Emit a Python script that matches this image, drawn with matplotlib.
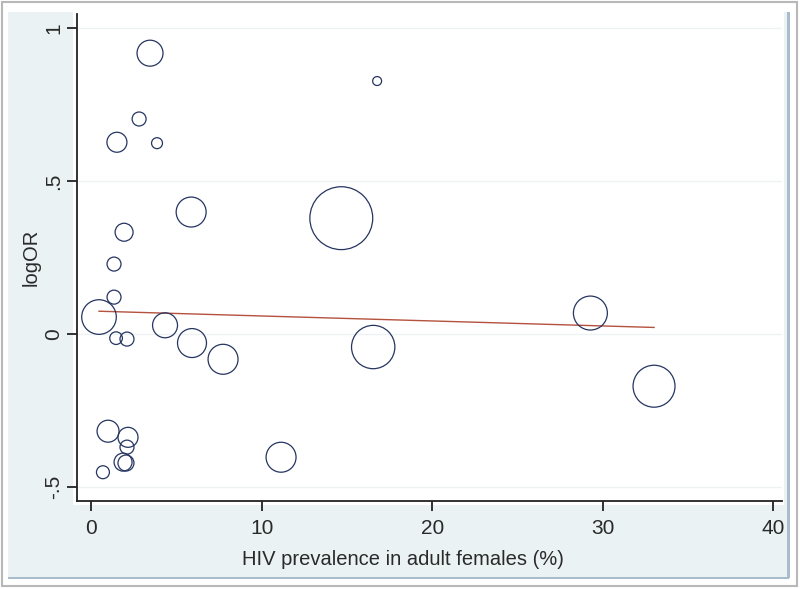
import numpy as np
import matplotlib
matplotlib.use("Agg")
import matplotlib.pyplot as plt
from matplotlib.patches import Rectangle

# HIV prevalence (%) and log odds ratio per study, with relative weights
hiv_prev = [3.46, 2.82, 1.52, 3.87, 16.77, 5.87, 1.94, 1.35, 1.35, 0.47,
            1.47, 2.11, 4.34, 5.92, 7.74, 14.67, 16.54, 29.27, 33.0, 11.14,
            1.0, 2.17, 2.11, 1.88, 2.05, 0.7]
log_or = [0.918, 0.703, 0.627, 0.624, 0.827, 0.399, 0.333, 0.229, 0.121, 0.056,
          -0.013, -0.016, 0.029, -0.029, -0.082, 0.379, -0.042, 0.069, -0.170, -0.402,
          -0.317, -0.337, -0.369, -0.418, -0.421, -0.451]
weights = [169, 49, 100, 30, 20, 225, 81, 49, 49, 300,
           40, 49, 156, 210, 225, 990, 470, 289, 441, 225,
           121, 100, 49, 81, 64, 42]

# fitted meta-regression line
fit_x = [0.47, 33.0]
fit_y = [0.075, 0.022]

xticks = [0, 10, 20, 30, 40]
yticks = [-0.5, 0, 0.5, 1]
ytick_labels = ["-.5", "0", ".5", "1"]

W, H = 800, 589
fig = plt.figure(figsize=(W / 100, H / 100), dpi=100)
fig.patch.set_facecolor("white")

def px_rect(x0, y0, x1, y1, **kw):
    # rectangle given in pixel coords (top-left origin)
    return Rectangle((x0 / W, 1 - y1 / H), (x1 - x0) / W, (y1 - y0) / H,
                     transform=fig.transFigure, zorder=-10, **kw)

# outer frame and Stata style graph region
fig.patches.append(px_rect(2, 2, 797, 586, facecolor="none", edgecolor="#b8b8b8", lw=1.5))
fig.patches.append(px_rect(8, 12, 789, 578, facecolor="#eaf2f3", edgecolor="none"))
fig.patches.append(px_rect(8, 577, 789, 578.5, facecolor="#a9bccb", edgecolor="none"))
fig.patches.append(px_rect(787, 12, 790, 578, facecolor="#a9bccb", edgecolor="none"))
fig.patches.append(px_rect(73, 12, 784, 505, facecolor="white", edgecolor="none"))

ax = fig.add_axes([77 / W, 1 - 501 / H, (782 - 77) / W, (501 - 14) / H])
ax.set_facecolor("none")

sizes = np.array(weights) * 2.07
ax.scatter(hiv_prev, log_or, s=sizes, facecolors="none", edgecolors="#263561",
           linewidths=0.9, zorder=3)
ax.plot(fit_x, fit_y, color="#b5513f", lw=1.0, zorder=2)

ax.set_xlim(-0.82, 40.5)
ax.set_ylim(-0.545, 1.046)

ax.set_xticks(xticks)
ax.set_xticklabels([str(t) for t in xticks])
ax.set_yticks(yticks)
ax.set_yticklabels(ytick_labels, rotation=90, va="center")

for t in yticks:
    ax.axhline(t, color="#eef2f4", lw=1.0, zorder=1)

font = "Liberation Sans"
ax.tick_params(axis="both", direction="out", length=7, width=1.3, colors="#222222",
               labelsize=15, labelcolor="#2a2a2a")
ax.tick_params(axis="x", pad=6)
ax.tick_params(axis="y", pad=3)
for lab in ax.get_xticklabels() + ax.get_yticklabels():
    lab.set_fontfamily(font)

for side in ["top", "right"]:
    ax.spines[side].set_visible(False)
for side in ["left", "bottom"]:
    ax.spines[side].set_linewidth(1.3)
    ax.spines[side].set_color("#222222")

ax.set_xlabel("HIV prevalence in adult females (%)", fontsize=14.5, family=font,
              color="#2a2a2a")
ax.set_ylabel("logOR", fontsize=14.5, family=font, color="#2a2a2a")
ax.xaxis.set_label_coords(0.4617, -0.1)
ax.yaxis.set_label_coords(-0.051, 0.5)

fig.savefig("out.png", dpi=100)
